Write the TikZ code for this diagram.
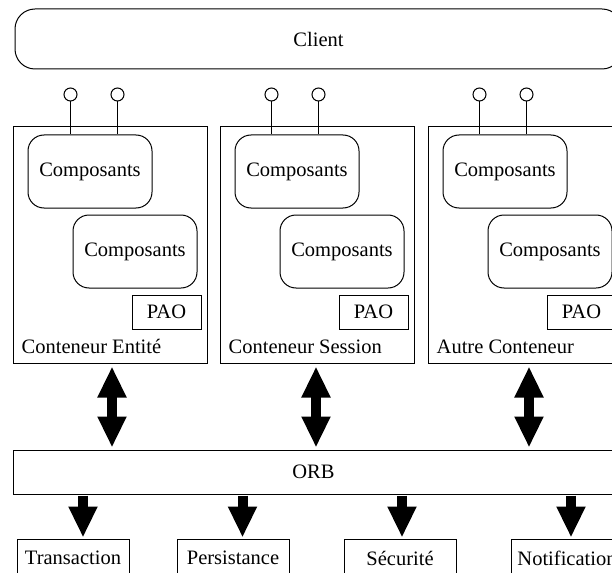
\documentclass[tikz,border=0pt]{standalone}
\usepackage{fontspec}
\setmainfont{Liberation Serif}
\usepackage{tikz}
\usetikzlibrary{shapes,arrows.meta,positioning}

\tikzset{
    boite/.style={rectangle, draw, line width=1pt, inner sep=0pt},
    conteneur/.style={boite, minimum width=194pt, minimum height=236pt},
    composant/.style={boite, rounded corners=16pt, minimum width=124pt, minimum height=73pt},
    pao/.style={boite, minimum width=69pt, minimum height=34pt},
    service/.style={boite, minimum width=112pt, minimum height=38pt},
    prise/.style={circle, draw, line width=1pt, minimum size=13pt, inner sep=0pt},
    etiquette/.style={inner sep=0pt},
    fleche/.style={line width=10pt, -{Triangle[width=27pt, length=31pt]}},
    doublefleche/.style={line width=10pt, {Triangle[width=27pt, length=31pt]}-{Triangle[width=27pt, length=31pt]}}
}

\begin{document}
\begin{tikzpicture}[x=1pt, y=-1pt, font=\fontsize{20.5}{24}\selectfont]
    \path [use as bounding box, clip] (0,0) rectangle (612,572);

    % Client
    \node [boite, rounded corners=20pt, minimum width=607pt, minimum height=60pt] (client) at (318.5,39) {Client};

    % Conteneurs
    \node [conteneur] (k1) at (110,245) {};
    \node [conteneur] (k2) at (317,245) {};
    \node [conteneur] (k3) at (525,245) {};

    \foreach \k/\dx/\nom in {1/43/Conteneur Entité, 2/37/Conteneur Session, 3/37/Autre Conteneur} {
        \node [composant, below right=8pt and 15pt of k\k.north west] (ca\k) {Composants};
        \node [composant, below right=88pt and 60pt of k\k.north west] (cb\k) {Composants};
        \node [pao, above left=34pt and 6pt of k\k.south east] (pao\k) {PAO};
        \node [etiquette, above right=10pt and 9pt of k\k.south west, anchor=base west] (lab\k) {\nom};
        % Interfaces
        \node [prise] (pa\k) at ([xshift=\dx pt, yshift=40pt]ca\k.north west) {};
        \node [prise, right=33pt of pa\k] (pb\k) {};
        \draw [line width=1pt] (pa\k) -- (pa\k |- ca\k.north);
        \draw [line width=1pt] (pb\k) -- (pb\k |- ca\k.north);
    }

    % ORB
    \node [boite, minimum width=601pt, minimum height=44pt] (orb) at (313.5,472) {ORB};

    % Services
    \node [service] (tr) at (73,558) {Transaction};
    \node [service, right=47pt of tr] (pe) {Persistance};
    \node [service, right=54pt of pe] (se) {Sécurité};
    \node [service, right=54pt of se] (no) {Notification};

    % Fleches
    \foreach \k/\ax in {1/2, 2/-1, 3/4}
        \draw [doublefleche, shorten <=3pt, shorten >=2pt] ([xshift=\ax pt]k\k.south) -- ([xshift=\ax pt]k\k.south |- orb.north);
    \foreach \s/\dx in {tr/10, pe/9.5, se/2, no/4}
        \draw [fleche, shorten <=1pt, shorten >=1pt] ([xshift=\dx pt]\s.north |- orb.south) -- ([xshift=\dx pt]\s.north);
\end{tikzpicture}
\end{document}
